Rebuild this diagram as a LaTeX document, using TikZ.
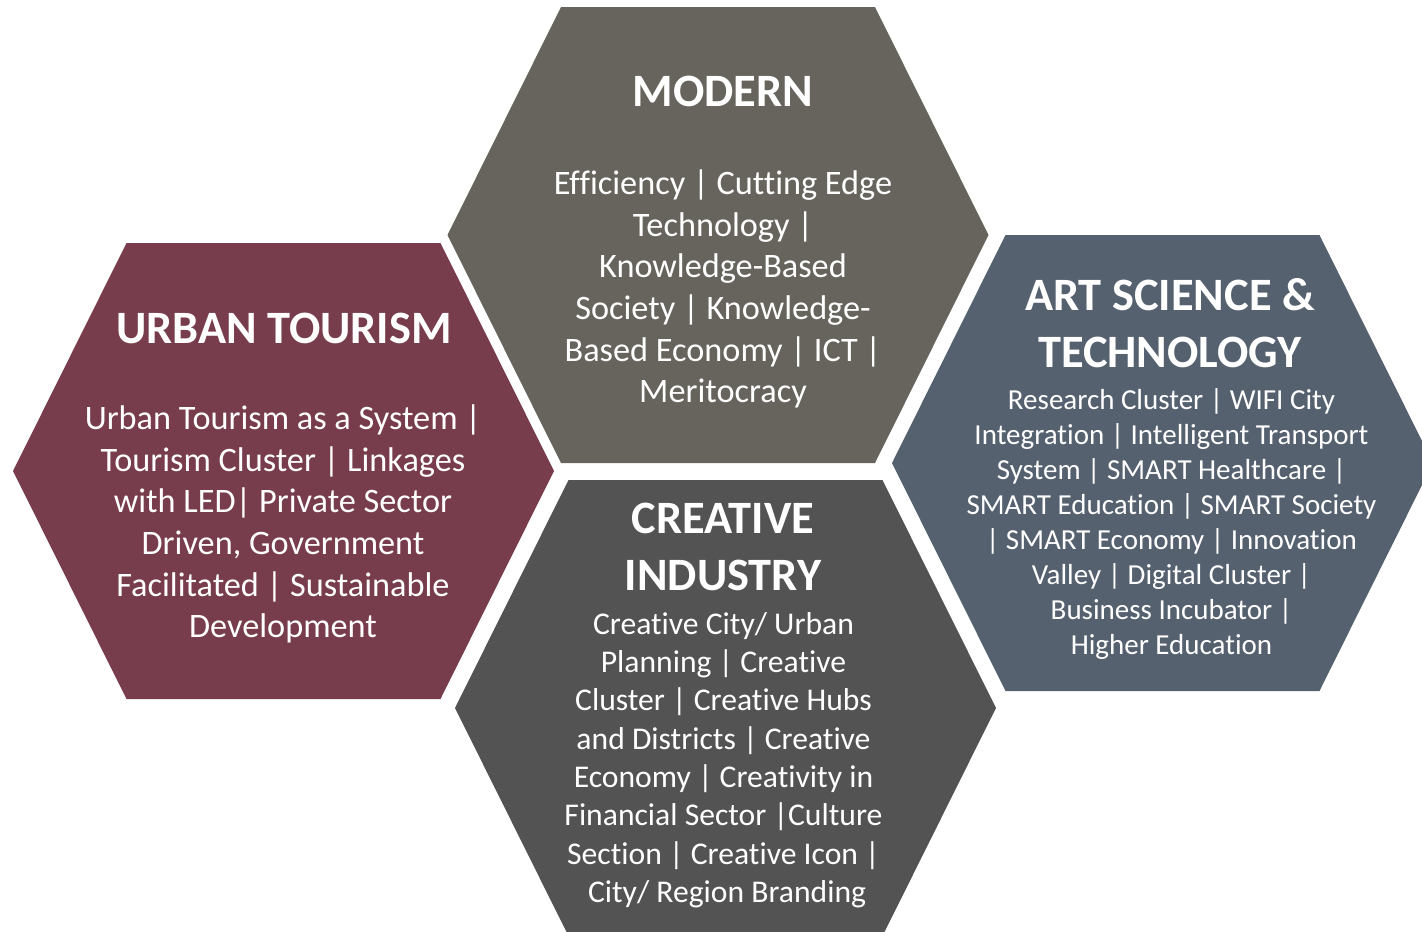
\documentclass[tikz,border=0pt]{standalone}
\usepackage{fontspec}
\setmainfont{Carlito}[Ligatures=NoCommon]
\usetikzlibrary{positioning}

\definecolor{moderngray}{HTML}{67645E}
\definecolor{urbanred}{HTML}{783D4C}
\definecolor{creativegray}{HTML}{535353}
\definecolor{artblue}{HTML}{566170}

% one flat-topped hexagon round a named centre
\newcommand{\hexfill}[2]{%
  \fill[#2,shift={(#1)}] (-2.705,0) -- (-1.57,2.28) -- (1.57,2.28) -- (2.705,0)
    -- (1.57,-2.28) -- (-1.57,-2.28) -- cycle;}

\begin{document}
\begin{tikzpicture}[every node/.style={text=white,align=center,inner sep=0pt},
  hextitle/.style={font=\fontsize{13.2}{16.2}\selectfont\bfseries},
  hexbody/.style={font=\fontsize{9.75}{11.84}\selectfont},
  hexsmall/.style={font=\fontsize{8.25}{9.99}\selectfont},
  hexmid/.style={font=\fontsize{9}{10.9}\selectfont}]
\useasboundingbox (0,0) rectangle (14.22,9.31);

\coordinate (modern) at (7.18,6.96);
\coordinate (urban) at (2.835,4.60);
\coordinate (creative) at (7.255,2.23);
\coordinate (art) at (11.625,4.68);

\begin{scope}
\clip (0,0) rectangle (14.22,9.31);
\hexfill{modern}{moderngray}
\hexfill{urban}{urbanred}
\hexfill{creative}{creativegray}
\hexfill{art}{artblue}
\end{scope}

% modern
\node[hextitle] (modern title) at (7.23,8.40) {MODERN};
\node[hexbody] (modern text) at (7.23,6.42)
    {Efficiency | Cutting Edge\\Technology |\\Knowledge-Based\\Society | Knowledge-\\Based Economy | ICT |\\Meritocracy};

% urban tourism
\node[hextitle] (urban title) at (2.84,6.03) {URBAN TOURISM};
\node[hexbody] (urban text) at (2.83,4.07)
    {Urban Tourism as a System |\\Tourism Cluster | Linkages\\with LED| Private Sector\\Driven, Government\\Facilitated | Sustainable\\Development};

% creative industry
\node[hextitle] (creative title) at (7.23,3.84) {CREATIVE\\INDUSTRY};
\node[hexmid] (creative text) at (7.235,1.71)
    {Creative City/ Urban\\Planning | Creative\\Cluster | Creative Hubs\\and Districts | Creative\\Economy | Creativity in\\Financial Sector |Culture\\Section | Creative Icon |\\\ City/ Region Branding};

% art science and technology
\node[hextitle] (art title) at (11.70,6.075) {ART SCIENCE \&\\TECHNOLOGY};
\node[hexsmall] (art text) at (11.715,4.07)
    {Research Cluster | WIFI City\\Integration | Intelligent Transport\\System | SMART Healthcare |\\SMART Education | SMART Society\\| SMART Economy | Innovation\\Valley | Digital Cluster |\\Business Incubator |\\Higher Education};
\end{tikzpicture}
\end{document}
